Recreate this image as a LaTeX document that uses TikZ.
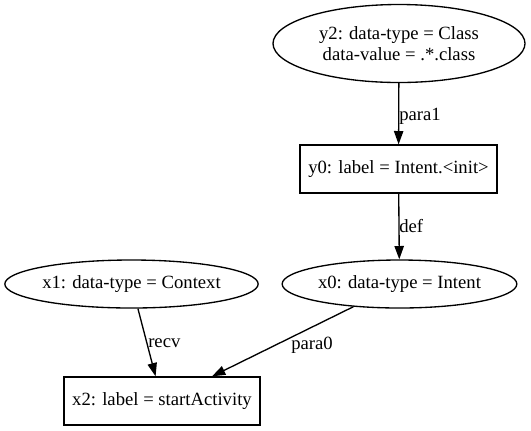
\documentclass[tikz,border=0pt]{standalone}
\usepackage{fontspec}
\setmainfont{Liberation Serif}
\usetikzlibrary{shapes.geometric,arrows.meta}
\begin{document}
\begin{tikzpicture}[x=0.75pt,y=-0.75pt,
  every node/.style={font=\fontsize{14}{15.5}\selectfont},
  ell/.style={draw,ellipse,line width=1pt,inner sep=0pt,align=center},
  rbox/.style={draw,rectangle,line width=1pt,inner sep=0pt},
  conn/.style={line width=1pt,-{Triangle[length=10pt,width=7pt]}},
  elab/.style={inner sep=0pt}]
\useasboundingbox (0,0) rectangle (531,430);
\fill[white] (0,0) rectangle (531,430);
\node[ell,minimum width=189pt,minimum height=58.5pt] (y2) at (399,43.5) {y2: data-type = Class\\data-value = .*.class};
\node[rbox,minimum width=147.75pt,minimum height=36pt] (y0) at (398.5,169) {y0: label = Intent.<init>};
\node[ell,minimum width=176pt,minimum height=36pt] (x0) at (399.5,284) {x0: data-type = Intent};
\node[ell,minimum width=190pt,minimum height=36pt] (x1) at (131.5,284) {x1: data-type = Context};
\node[rbox,minimum width=147pt,minimum height=36pt] (x2) at (162,401) {x2: label = startActivity};
\draw[conn] (y2) -- (y0);
\draw[conn] (y0) -- (x0);
\draw[conn] (x1) -- (x2);
\draw[conn] (x0) -- (x2);
\node[elab,anchor=west] (l1) at (399,116) {para1};
\node[elab,anchor=west] (l2) at (399,226) {def};
\node[elab,anchor=west] (l3) at (148,343) {recv};
\node[elab] (l4) at (312,345) {para0};
\end{tikzpicture}
\end{document}
